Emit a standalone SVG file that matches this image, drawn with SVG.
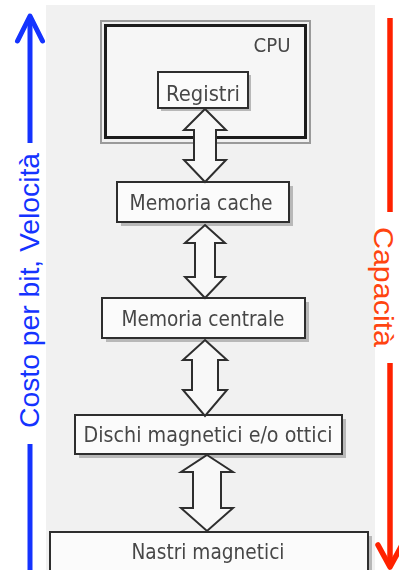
<svg xmlns="http://www.w3.org/2000/svg" width="399" height="570" viewBox="0 0 399 570">
  <defs>
    <style>
      .box { fill: #fbfbfb; stroke: #2e2e2e; stroke-width: 2; }
      .shadow { fill: #b8b8b8; }
      .lbl { font-family: "DejaVu Sans", Verdana, sans-serif; font-size: 21px; fill: #474747; text-anchor: middle; }
      .dbl { fill: #f8f8f8; stroke: #2e2e2e; stroke-width: 2; stroke-linejoin: miter; }
      .axis { font-family: "Liberation Sans", Arial, sans-serif; font-size: 28px; }
    </style>
    <filter id="soft" x="-5%" y="-5%" width="110%" height="110%">
      <feGaussianBlur stdDeviation="0.45"/>
    </filter>
  </defs>

  <rect x="0" y="0" width="399" height="570" fill="#ffffff"/>
  <!-- scanned page area -->
  <rect x="46" y="5" width="329" height="565" fill="#f1f1f1"/>

  <g filter="url(#soft)">
    <!-- CPU frame -->
    <g id="cpu">
      <rect x="101" y="21" width="209" height="122" fill="none" stroke="#9a9a9a" stroke-width="2"/>
      <rect x="105.5" y="25.5" width="200" height="112" fill="#f6f6f6" stroke="#1e1e1e" stroke-width="3"/>
      <text x="272" y="52" class="lbl" style="font-size:20px" textLength="37" lengthAdjust="spacingAndGlyphs">CPU</text>
    </g>

    <g id="registri">
      <rect x="161" y="75" width="90" height="36" class="shadow"/>
      <rect x="158" y="72" width="90" height="36" class="box"/>
      <text x="203" y="101" class="lbl" textLength="74" lengthAdjust="spacingAndGlyphs">Registri</text>
    </g>

    <g id="cache">
      <rect x="121" y="186" width="172" height="40" class="shadow"/>
      <rect x="117" y="182" width="172" height="40" class="box"/>
      <text x="201" y="210" class="lbl" textLength="143" lengthAdjust="spacingAndGlyphs">Memoria cache</text>
    </g>

    <g id="centrale">
      <rect x="106" y="302" width="203" height="40" class="shadow"/>
      <rect x="102" y="298" width="203" height="40" class="box"/>
      <text x="203" y="326" class="lbl" textLength="163" lengthAdjust="spacingAndGlyphs">Memoria centrale</text>
    </g>

    <g id="dischi">
      <rect x="79" y="419" width="267" height="39" class="shadow"/>
      <rect x="75" y="415" width="267" height="39" class="box"/>
      <text x="208" y="442" class="lbl" textLength="249" lengthAdjust="spacingAndGlyphs">Dischi magnetici e/o ottici</text>
    </g>

    <g id="nastri">
      <rect x="54" y="536" width="318" height="40" class="shadow"/>
      <rect x="50" y="532" width="318" height="40" class="box"/>
      <text x="208" y="559" class="lbl" textLength="153" lengthAdjust="spacingAndGlyphs">Nastri magnetici</text>
    </g>

    <!-- two-way transfer arrows between levels -->
    <g id="connectors">
      <polygon class="dbl" points="205,109 226,130 216,130 216,160 226,160 205,182 184,160 194,160 194,130 184,130"/>
      <polygon class="dbl" points="205,225 225,243 215,243 215,277 225,277 205,298 185,277 195,277 195,243 185,243"/>
      <polygon class="dbl" points="205,340 227,360 218,360 218,390 227,390 205,416 183,390 192,390 192,360 183,360"/>
      <polygon class="dbl" points="207,455 233,472 221,472 221,508 233,508 207,531 181,508 193,508 193,472 181,472"/>
    </g>
  </g>

  <!-- cost / speed axis -->
  <g id="axis-cost" stroke="#1433ff" stroke-width="5" stroke-linecap="round" fill="none">
    <line x1="30" y1="17" x2="30" y2="143" stroke-linecap="butt"/>
    <polyline points="17.5,41 30,16 42.5,41" stroke-linejoin="round"/>
    <line x1="30" y1="444" x2="30" y2="570" stroke-linecap="butt"/>
  </g>
  <text class="axis" fill="#1433ff" transform="translate(38.5,428) rotate(-90)" textLength="275" lengthAdjust="spacingAndGlyphs">Costo per bit, Velocità</text>

  <!-- capacity axis -->
  <g id="axis-capacity" stroke="#ff2200" stroke-width="5.5" fill="none">
    <line x1="390" y1="18" x2="390" y2="212"/>
    <line x1="390" y1="363" x2="390" y2="565"/>
    <polyline points="378,545 390,567 402,545" stroke-linecap="round" stroke-linejoin="round"/>
  </g>
  <text class="axis" fill="#ff4410" style="font-size:27px" transform="translate(374,227) rotate(90)" textLength="120" lengthAdjust="spacingAndGlyphs">Capacità</text>
</svg>
